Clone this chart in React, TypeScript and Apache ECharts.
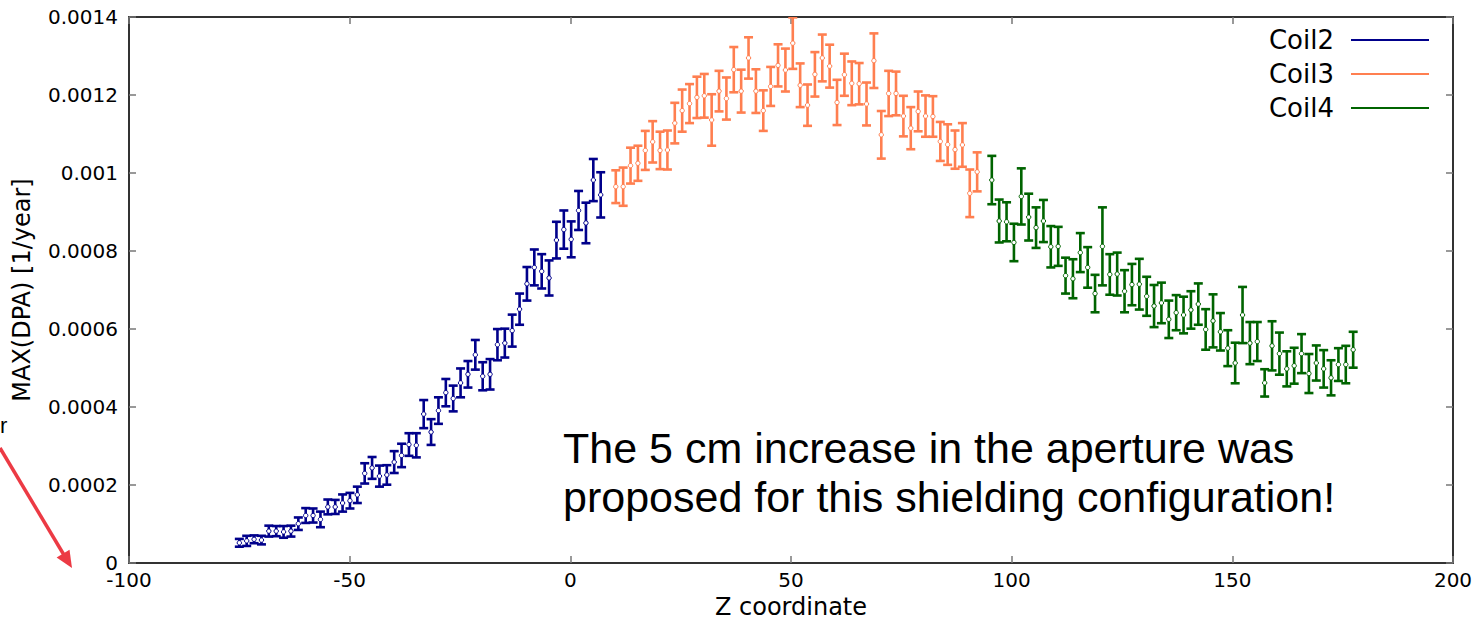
import React, { useEffect, useRef } from "react";
import * as echarts from "echarts";

// Bin layout (z coordinate of first bin centre and bin width, in cm)
const COIL2_START = -75.0;
const COIL3_START = 10.3;
const COIL4_START = 95.5;
const BIN_WIDTH = 1.671;

// MAX(DPA) values [1/year]
const coil2Values = [
  5.2e-5, 5.7e-5, 6.1e-5, 5.9e-5, 8.2e-5, 8.2e-5, 8.0e-5, 8.2e-5, 1.01e-4, 1.22e-4,
  1.22e-4, 1.12e-4, 1.44e-4, 1.44e-4, 1.54e-4, 1.6e-4, 1.75e-4, 2.3e-4, 2.44e-4, 2.23e-4,
  2.26e-4, 2.59e-4, 2.76e-4, 3.04e-4, 3.02e-4, 3.82e-4, 3.36e-4, 3.91e-4, 4.37e-4, 4.22e-4,
  4.62e-4, 4.84e-4, 5.34e-4, 4.79e-4, 4.84e-4, 5.6e-4, 5.64e-4, 5.96e-4, 6.51e-4, 7.16e-4,
  7.58e-4, 7.48e-4, 7.31e-4, 8.28e-4, 8.55e-4, 8.3e-4, 9.04e-4, 8.72e-4, 9.82e-4, 9.44e-4,
];
const coil2Errors = [
  1.0e-5, 1.3e-5, 1.0e-5, 1.1e-5, 1.4e-5, 1.3e-5, 1.5e-5, 1.4e-5, 1.6e-5, 1.9e-5,
  1.8e-5, 2.0e-5, 1.9e-5, 1.8e-5, 2.2e-5, 2.0e-5, 2.1e-5, 2.6e-5, 2.8e-5, 2.7e-5,
  2.5e-5, 2.8e-5, 3.0e-5, 2.9e-5, 3.1e-5, 3.6e-5, 3.3e-5, 3.4e-5, 3.5e-5, 3.3e-5,
  3.7e-5, 3.4e-5, 3.8e-5, 3.6e-5, 3.9e-5, 4.0e-5, 3.7e-5, 4.1e-5, 4.0e-5, 4.3e-5,
  4.6e-5, 4.4e-5, 4.5e-5, 4.7e-5, 4.9e-5, 4.6e-5, 5.0e-5, 5.2e-5, 5.4e-5, 5.8e-5,
];

const coil3Values = [
  9.65e-4, 9.65e-4, 1.019e-3, 1.025e-3, 1.058e-3, 1.08e-3, 1.058e-3, 1.059e-3, 1.128e-3, 1.16e-3,
  1.178e-3, 1.194e-3, 1.198e-3, 1.136e-3, 1.21e-3, 1.191e-3, 1.265e-3, 1.21e-3, 1.295e-3, 1.21e-3,
  1.16e-3, 1.222e-3, 1.276e-3, 1.264e-3, 1.333e-3, 1.225e-3, 1.174e-3, 1.253e-3, 1.295e-3, 1.274e-3,
  1.181e-3, 1.252e-3, 1.23e-3, 1.229e-3, 1.177e-3, 1.288e-3, 1.098e-3, 1.204e-3, 1.204e-3, 1.146e-3,
  1.115e-3, 1.158e-3, 1.146e-3, 1.145e-3, 1.081e-3, 1.073e-3, 1.06e-3, 1.072e-3, 9.48e-4, 1.003e-3,
];
const coil3Errors = [
  4.2e-5, 4.9e-5, 4.6e-5, 4.5e-5, 5.0e-5, 5.3e-5, 4.8e-5, 5.0e-5, 5.2e-5, 5.4e-5,
  5.0e-5, 5.3e-5, 5.6e-5, 6.6e-5, 5.2e-5, 5.4e-5, 5.8e-5, 5.5e-5, 5.3e-5, 5.6e-5,
  5.2e-5, 5.0e-5, 5.4e-5, 5.5e-5, 6.6e-5, 5.6e-5, 5.3e-5, 5.7e-5, 6.0e-5, 5.5e-5,
  5.8e-5, 5.4e-5, 5.6e-5, 5.3e-5, 5.5e-5, 7.0e-5, 6.1e-5, 5.8e-5, 5.6e-5, 5.2e-5,
  5.4e-5, 5.1e-5, 5.3e-5, 5.2e-5, 5.0e-5, 5.2e-5, 4.9e-5, 5.6e-5, 6.1e-5, 5.0e-5,
];

const coil4Values = [
  9.82e-4, 8.77e-4, 8.75e-4, 8.22e-4, 9.4e-4, 8.87e-4, 8.6e-4, 8.77e-4, 8.11e-4, 8.12e-4,
  7.37e-4, 7.29e-4, 7.96e-4, 7.58e-4, 6.91e-4, 8.12e-4, 7.4e-4, 7.41e-4, 6.97e-4, 7.14e-4,
  7.15e-4, 6.84e-4, 6.59e-4, 6.67e-4, 6.25e-4, 6.42e-4, 6.36e-4, 6.49e-4, 6.64e-4, 5.99e-4,
  6.21e-4, 5.93e-4, 5.51e-4, 5.13e-4, 6.36e-4, 5.64e-4, 5.68e-4, 4.62e-4, 5.57e-4, 5.37e-4,
  4.98e-4, 5.06e-4, 5.37e-4, 4.86e-4, 5.13e-4, 4.98e-4, 4.75e-4, 5.09e-4, 5.09e-4, 5.47e-4,
];
const coil4Errors = [
  6.2e-5, 5.5e-5, 5.0e-5, 4.8e-5, 7.2e-5, 6.0e-5, 5.2e-5, 5.4e-5, 5.3e-5, 5.0e-5,
  4.6e-5, 5.0e-5, 5.0e-5, 5.2e-5, 4.8e-5, 1.0e-4, 5.2e-5, 5.5e-5, 5.4e-5, 5.3e-5,
  6.5e-5, 5.0e-5, 5.4e-5, 5.2e-5, 4.8e-5, 4.5e-5, 4.7e-5, 4.8e-5, 5.3e-5, 5.2e-5,
  6.8e-5, 4.8e-5, 4.6e-5, 5.2e-5, 7.2e-5, 5.4e-5, 5.0e-5, 3.5e-5, 6.3e-5, 5.4e-5,
  4.5e-5, 4.6e-5, 5.0e-5, 5.0e-5, 4.5e-5, 4.8e-5, 4.5e-5, 4.2e-5, 4.8e-5, 4.6e-5,
];

const xTicks = { min: -100, max: 200, interval: 50 };
const yTicks = { min: 0, max: 0.0014, interval: 0.0002 };

const seriesDefs = [
  { name: "Coil2", start: COIL2_START, values: coil2Values, errors: coil2Errors, color: "#00008b" },
  { name: "Coil3", start: COIL3_START, values: coil3Values, errors: coil3Errors, color: "#ff7f50" },
  { name: "Coil4", start: COIL4_START, values: coil4Values, errors: coil4Errors, color: "#006400" },
];

const AXIS_FONT = "DejaVu Sans";

function buildData(start: number, values: number[], errors: number[]) {
  return values.map((v, i) => [start + i * BIN_WIDTH, v, errors[i]]);
}

function makeRender(color: string) {
  return (params: any, api: any) => {
    const x = api.value(0);
    const v = api.value(1);
    const e = api.value(2);
    const top = api.coord([x, v + e]);
    const bot = api.coord([x, v - e]);
    const mid = api.coord([x, v]);
    const cw = 4.5;
    const st = { stroke: color, lineWidth: 2.6 };
    return {
      type: "group",
      children: [
        { type: "line", shape: { x1: top[0], y1: top[1], x2: bot[0], y2: bot[1] }, style: st },
        { type: "line", shape: { x1: top[0] - cw, y1: top[1], x2: top[0] + cw, y2: top[1] }, style: st },
        { type: "line", shape: { x1: bot[0] - cw, y1: bot[1], x2: bot[0] + cw, y2: bot[1] }, style: st },
        {
          type: "circle",
          shape: { cx: mid[0], cy: mid[1], r: 2.2 },
          style: { fill: "#ffffff", stroke: color, lineWidth: 1 },
        },
      ],
    };
  };
}

const fmtY = (v: number) => (v === 0 ? "0" : String(parseFloat(v.toFixed(4))));

export default function App() {
  const ref = useRef<HTMLDivElement>(null);

  useEffect(() => {
    if (!ref.current) return;
    const chart = echarts.init(ref.current, null, { renderer: "svg" });

    const spine = { show: true, onZero: false, lineStyle: { color: "#333333", width: 2 } };
    const tick = { show: true, inside: true, length: 7, lineStyle: { color: "#777777", width: 1.5 } };

    const option: any = {
      animation: false,
      backgroundColor: "#ffffff",
      grid: { left: 129, right: 27, top: 17, bottom: 55, containLabel: false },
      legend: {
        orient: "vertical",
        right: 51,
        top: 27,
        padding: 0,
        align: "right",
        itemWidth: 78,
        itemHeight: 2,
        itemGap: 8,
        textStyle: {
          fontSize: 26,
          fontFamily: AXIS_FONT,
          color: "#000000",
          lineHeight: 25,
          padding: [0, 12, 0, 0],
        },
        data: seriesDefs.map((s) => ({ name: s.name, icon: "rect" })),
      },
      xAxis: [
        {
          type: "value",
          position: "bottom",
          ...xTicks,
          axisLine: spine,
          axisTick: tick,
          splitLine: { show: false },
          axisLabel: { color: "#000000", fontSize: 20, fontFamily: AXIS_FONT, margin: 7 },
          name: "Z coordinate",
          nameLocation: "middle",
          nameGap: 31,
          nameTextStyle: { color: "#000000", fontSize: 24, fontFamily: AXIS_FONT },
        },
        {
          type: "value",
          position: "top",
          ...xTicks,
          axisLine: spine,
          axisTick: tick,
          splitLine: { show: false },
          axisLabel: { show: false },
        },
      ],
      yAxis: [
        {
          type: "value",
          position: "left",
          ...yTicks,
          axisLine: spine,
          axisTick: tick,
          splitLine: { show: false },
          axisLabel: { color: "#000000", fontSize: 20, fontFamily: AXIS_FONT, margin: 11, formatter: fmtY },
          name: "MAX(DPA) [1/year]",
          nameLocation: "middle",
          nameGap: 95,
          nameRotate: 90,
          nameTextStyle: { color: "#000000", fontSize: 24, fontFamily: AXIS_FONT },
        },
        {
          type: "value",
          position: "right",
          ...yTicks,
          axisLine: spine,
          axisTick: tick,
          splitLine: { show: false },
          axisLabel: { show: false },
        },
      ],
      series: seriesDefs.map((s) => ({
        name: s.name,
        type: "custom",
        xAxisIndex: 0,
        yAxisIndex: 0,
        clip: true,
        itemStyle: { color: s.color },
        renderItem: makeRender(s.color),
        encode: { x: 0, y: 1 },
        data: buildData(s.start, s.values, s.errors),
      })),
      graphic: [
        {
          type: "text",
          left: 563,
          top: 423,
          style: {
            text: "The 5 cm increase in the aperture was\nproposed for this shielding configuration!",
            font: '43px "Liberation Sans", Arial, sans-serif',
            fill: "#000000",
            lineHeight: 49,
          },
        },
        {
          type: "text",
          left: 0,
          top: 414,
          style: { text: "r", font: '22px "Liberation Sans", Arial, sans-serif', fill: "#000000" },
        },
        {
          type: "line",
          shape: { x1: 0, y1: 448, x2: 64, y2: 555 },
          style: { stroke: "#ec3a44", lineWidth: 3.5 },
        },
        {
          type: "polygon",
          shape: { points: [[56.6, 557.6], [69.5, 549.7], [72, 568]] },
          style: { fill: "#ec3a44" },
        },
      ],
    };

    chart.setOption(option);
    return () => chart.dispose();
  }, []);

  return (
    <div
      ref={ref}
      style={{ position: "fixed", left: 0, top: 0, width: 1480, height: 624, background: "#ffffff" }}
    />
  );
}
